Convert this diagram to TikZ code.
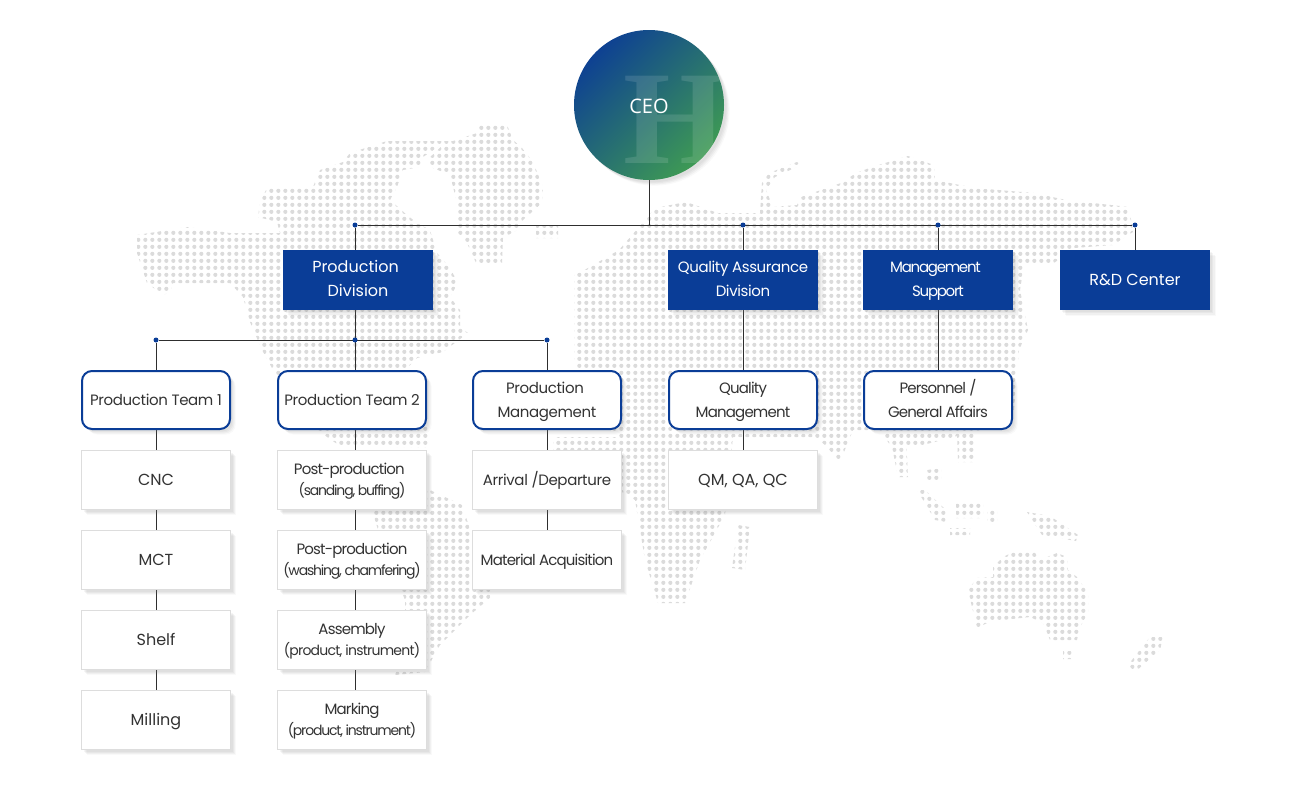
\documentclass[tikz,border=0pt]{standalone}
\usepackage{fontspec}
\usepackage{xcolor}
\usepackage{tikz}
\usetikzlibrary{backgrounds,shadows,patterns}
\setmainfont{Poppins}
\newfontfamily\tightfont[LetterSpace=-2.5]{Poppins}
\newfontfamily\narrowfont[LetterSpace=-5.5]{Poppins}
\newfontfamily\squeezefont[LetterSpace=-8.5]{Poppins}
\newfontfamily\ceofont{Open Sans}
\newfontfamily\markfont{Liberation Serif}
\definecolor{navy}{HTML}{0A3D97}
\definecolor{ceoBlue}{HTML}{0E4192}
\definecolor{ceoGreen}{HTML}{3E9A54}
\definecolor{wire}{HTML}{2E2E2E}
\definecolor{mapDot}{HTML}{DBDBDB}
\definecolor{inkText}{HTML}{333333}
\definecolor{edgeGray}{HTML}{DDDDDD}
\pgfdeclarepatternformonly{mapdots}{\pgfqpoint{-2.488pt}{-2.488pt}}{\pgfqpoint{2.488pt}{2.488pt}}{\pgfqpoint{4.976pt}{4.976pt}}{\pgfpathcircle{\pgfqpoint{-0.65pt}{0.8pt}}{1.65pt}\pgfusepath{fill}}
\newcommand{\subtext}[1]{{\fontsize{10.5}{15.5}\selectfont\squeezefont #1}}

\begin{document}
\begin{tikzpicture}[
    x=0.75pt, y=-0.75pt,
    softshade/.style={
        drop shadow={shadow xshift=4.2pt, shadow yshift=-4.2pt, opacity=0.05},
        drop shadow={shadow xshift=3.4pt, shadow yshift=-3.4pt, opacity=0.07},
        drop shadow={shadow xshift=2.6pt, shadow yshift=-2.6pt, opacity=0.08},
        drop shadow={shadow xshift=1.8pt, shadow yshift=-1.8pt, opacity=0.08}},
    ceo/.style={circle, minimum size=112.5pt, inner sep=0pt, outer sep=0pt,
                  shading=axis, left color=ceoBlue, right color=ceoGreen,
                  shading angle=45, text=white, text height=13pt, text depth=1pt,
                  font=\ceofont\fontsize{15}{16}\selectfont, softshade},
    division/.style={fill=navy, text=white, align=center, minimum width=112.5pt,
                  minimum height=45pt, inner sep=0pt, outer sep=0pt,
                  text height=27pt, text depth=2pt,
                  font=\fontsize{11.25}{18}\selectfont, softshade},
    team/.style={draw=navy, line width=1.5pt, fill=white, text=inkText, align=center,
                  rounded corners=7.5pt, minimum width=111pt, minimum height=43.5pt,
                  inner sep=0pt, outer sep=0pt, text height=27.5pt, text depth=2pt,
                  font=\tightfont\fontsize{11.25}{18}\selectfont, softshade},
    task/.style={draw=edgeGray, line width=0.75pt, fill=white, text=inkText, align=center,
                  minimum width=111.75pt, minimum height=44.25pt, inner sep=0pt, outer sep=0pt,
                  text height=24.5pt, text depth=2pt,
                  font=\tightfont\fontsize{11.25}{15.5}\selectfont, softshade},
    oneline/.style={text height=10.6pt, text depth=2pt},
    plainbig/.style={font=\fontsize{12}{18}\selectfont},
    junction/.style={circle, fill=navy, minimum size=3.75pt, inner sep=0pt},
    wireline/.style={line width=0.75pt, draw=wire},
  ]
    \path[use as bounding box] (0,0) rectangle (1300,800);

    % --- dotted world map behind everything ---------------------------------
    \begin{scope}[on background layer]
      \fill[pattern=mapdots, pattern color=mapDot]
        (137,235)--(187,227)--(230,233)--(280,233)--(277,222)--(258,217)--(260,202)--(267,188)
          --(313,187)--(320,170)--(343,162)--(350,153)--(387,141)--(447,141)--(423,157)--(420,167)
          --(403,170)--(397,187)--(390,200)--(407,215)--(417,223)--(430,230)--(437,253)--(450,268)
          --(458,283)--(450,297)--(460,310)--(460,327)--(468,333)--(443,352)--(417,358)--(407,368)
          --(405,390)--(430,430)--(428,448)--(340,446)--(317,430)--(277,390)--(277,377)--(262,350)
          --(250,322)--(243,297)--(230,283)--(173,283)--(170,292)--(163,295)--(147,283)--(137,253)--cycle
        (477,133)--(477,125)--(507,125)--(513,140)--(522,148)--(533,162)--(543,187)--(542,203)
          --(523,220)--(517,230)--(503,238)--(502,263)--(477,265)--(467,243)--(458,233)--(458,207)
          --(452,183)--(450,175)--(433,168)--(427,160)--(447,141)--(453,141)--cycle
        (536,226)--(558,226)--(558,238)--(536,238)--cycle
        (395,490)--(430,490)--(462,505)--(490,590)--(490,598)--(470,615)--(440,645)--(425,672)
          --(395,675)--(405,640)--(405,600)--(378,530)--(372,510)--cycle
        (574,275)--(588,268)--(619,250)--(639,227)--(655,208)--(686,202)--(718,213)--(760,213)
          --(762,183)--(769,173)--(797,162)--(801,165)--(775,177)--(766,190)--(773,207)--(797,205)
          --(801,197)--(841,183)--(856,173)--(872,167)--(908,156)--(934,165)--(935,180)--(975,188)
          --(1034,193)--(1066,200)--(1129,207)--(1133,232)--(1113,245)--(1074,248)--(1054,263)
          --(1024,265)--(1020,290)--(1028,330)--(1019,350)--(1014,410)--(1000,425)--(923,445)
          --(890,445)--(880,430)--(853,430)--(840,462)--(825,445)--(815,437)--(620,437)--(578,402)
          --(574,353)--cycle
        (553,437)--(733,437)--(725,515)--(700,560)--(685,603)--(658,603)--(645,560)--(635,500)--(553,450)--cycle
        (738,525)--(750,527)--(745,570)--(732,568)--cycle
        (890,437)--(906,437)--(908,477)--(898,477)--cycle
        (957,430)--(975,430)--(975,462)--(958,462)--cycle
        (927,470)--(941,468)--(941,480)--(927,481)--cycle
        (917,490)--(925,490)--(948,512)--(946,522)--(935,520)--cycle
        (956,503)--(983,503)--(983,518)--(956,518)--cycle
        (950,528)--(970,528)--(970,535)--(950,535)--cycle
        (987,510)--(997,510)--(997,524)--(987,524)--cycle
        (1027,512)--(1050,516)--(1078,535)--(1076,541)--(1042,535)--cycle
        (1017,550)--(1033,550)--(1040,560)--(1057,553)--(1067,557)--(1068,570)--(1077,577)--(1088,593)
          --(1088,613)--(1080,627)--(1077,640)--(1050,640)--(1043,623)--(1030,617)--(1003,620)
          --(987,623)--(977,628)--(972,607)--(968,590)--(977,578)--(993,577)--(993,567)--(1003,557)--cycle
        (1063,651)--(1073,651)--(1073,659)--(1063,659)--cycle
        (1128,665)--(1150,637)--(1163,637)--(1160,650)--(1135,672)--cycle;
    \end{scope}

    \node[ceo, path picture={
        \node[text=white, opacity=0.12, inner sep=0pt, text height=66pt, text depth=0pt,
              font=\markfont\bfseries\fontsize{100}{100}\selectfont]
          (ceoMark) at ([xshift=20pt,yshift=-10.5pt]path picture bounding box.center) {H};
      }] (ceoNode) at (649,105) {CEO};

    % --- divisions ----------------------------------------------------------
    \node[division, plainbig] (dProd) at (358,280) {\hspace*{-3.75pt}Production\\Division};
    \node[division] (dQual) at (743,280) {\tightfont Quality Assurance\\\tightfont Division};
    \node[division] (dMgmt) at (938,280) {\hspace*{-3.75pt}\squeezefont Management\\\squeezefont Support};
    \node[division, plainbig, oneline] (dRnd)  at (1135,280) {R\&D Center};

    % --- teams --------------------------------------------------------------
    \node[team, oneline] (tOne)  at (156,400) {Production Team 1};
    \node[team, oneline] (tTwo)  at (352,400) {Production Team 2};
    \node[team] (tProd) at (547,400) {\hspace*{-3pt}Production\\Management};
    \node[team] (tQual) at (743,400) {\narrowfont Quality\\\narrowfont Management};
    \node[team] (tPers) at (938,400) {\narrowfont Personnel /\\\narrowfont General Affairs};

    % --- tasks --------------------------------------------------------------
    \node[task, plainbig, oneline] (cnc)    at (156,480) {CNC};
    \node[task, plainbig, oneline] (mct)    at (156,560) {MCT};
    \node[task, plainbig, oneline] (shelf)  at (156,640) {Shelf};
    \node[task, plainbig, oneline] (mill)   at (156,720) {Milling};
    \node[task] (sand)   at (352,480) {\hspace*{-4pt}\narrowfont Post-production\\\subtext{(sanding, buffing)}};
    \node[task] (wash)   at (352,560) {\narrowfont Post-production\\\subtext{(washing, chamfering)}};
    \node[task] (asm)    at (352,640) {\narrowfont Assembly\\{\fontsize{10.5}{15.5}\selectfont\narrowfont (product, instrument)}};
    \node[task] (mark)   at (352,720) {\narrowfont Marking\\\subtext{(product, instrument)}};
    \node[task, oneline] (arr)    at (547,480) {Arrival /Departure};
    \node[task, oneline] (matl)   at (547,560) {\narrowfont Material Acquisition};
    \node[task, plainbig, oneline] (qmqa)   at (743,480) {QM, QA, QC};

    % --- junction dots ------------------------------------------------------
    \node[junction] (jProd) at (355,225) {};
    \node[junction] (jQual) at (743,225) {};
    \node[junction] (jMgmt) at (938,225) {};
    \node[junction] (jRnd)  at (1135,225) {};
    \node[junction] (jOne)  at (156,340) {};
    \node[junction] (jTwo)  at (355,340) {};
    \node[junction] (jMan)  at (547,340) {};

    % --- connectors ---------------------------------------------------------
    \begin{scope}[on background layer]
      \draw[wireline] (ceoNode.south) -- (ceoNode.south |- jProd);
      \draw[wireline] (jProd) -- (jRnd);
      \draw[wireline] (jOne) -- (jMan);
      \draw[wireline] (jProd) -- (jProd |- tTwo.north);
      \draw[wireline] (jQual) -- (qmqa.north);
      \draw[wireline] (jMgmt) -- (tPers.north);
      \draw[wireline] (jRnd) -- (dRnd.north);
      \draw[wireline] (jOne) -- (mill.north);
      \draw[wireline] (jMan) -- (matl.north);
      \draw[wireline] (jTwo) -- (jTwo |- mark.north);
    \end{scope}
\end{tikzpicture}
\end{document}
